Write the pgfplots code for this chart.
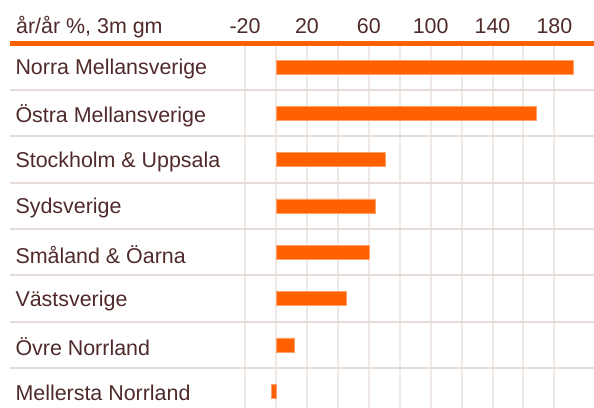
\documentclass[border=0pt]{standalone}
\usepackage{pgfplots}
\pgfplotsset{compat=1.18}
\usepackage{fontspec}
\setmainfont{Liberation Sans}
\definecolor{org}{RGB}{255,96,0}
\definecolor{txt}{RGB}{80,42,42}
\definecolor{gridc}{RGB}{239,232,229}
\definecolor{sepc}{RGB}{229,220,216}
\begin{document}
\begin{tikzpicture}
\path[use as bounding box] (0bp,0bp) rectangle (594bp,-408bp);
\begin{axis}[
  at={(10bp,-43.5bp)}, anchor=north west,
  scale only axis, width=584bp, height=364.5bp,
  xmin=-172, xmax=205.6, ymin=-0.508, ymax=7.365, y dir=reverse,
  axis x line*=top, axis y line*=left,
  x axis line style={org, line width=4.5bp, -},
  y axis line style={draw=none},
  xtick={-20,20,60,100,140,180},
  xticklabels={-20,20,60,100,140,180},
  minor xtick={0,40,80,120,160},
  xmajorgrids, xminorgrids,
  major x grid style={gridc, line width=2bp},
  minor x grid style={gridc, line width=2bp},
  ytick={0,...,7},
  yticklabels={Norra Mellansverige,Östra Mellansverige,Stockholm \& Uppsala,Sydsverige,Småland \& Öarna,Västsverige,Övre Norrland,Mellersta Norrland},
  minor ytick={0.5,1.5,...,6.5},
  yminorgrids,
  minor y grid style={sepc, line width=2bp},
  major tick length=0, minor tick length=0,
  tick style={draw=none},
  xticklabel style={font=\fontsize{21.5}{25}\selectfont, text=txt, anchor=base, yshift=10bp},
  yticklabel style={font=\fontsize{21.5}{25}\selectfont, text=txt, anchor=west, xshift=2bp, yshift=-2bp},
]
\addplot[xbar, fill=org, draw=org!60, line width=0.6bp, bar width=14bp, bar shift=0pt]
  coordinates {(192,0) (168,1) (70.5,2) (64.3,3) (60.2,4) (45.3,5) (11.8,6) (-3.2,7)};
\end{axis}
\node[anchor=base west, inner sep=0, font=\fontsize{21.5}{25}\selectfont, text=txt] at (16bp,-33.3bp) {år/år \%, 3m gm};
\end{tikzpicture}
\end{document}
